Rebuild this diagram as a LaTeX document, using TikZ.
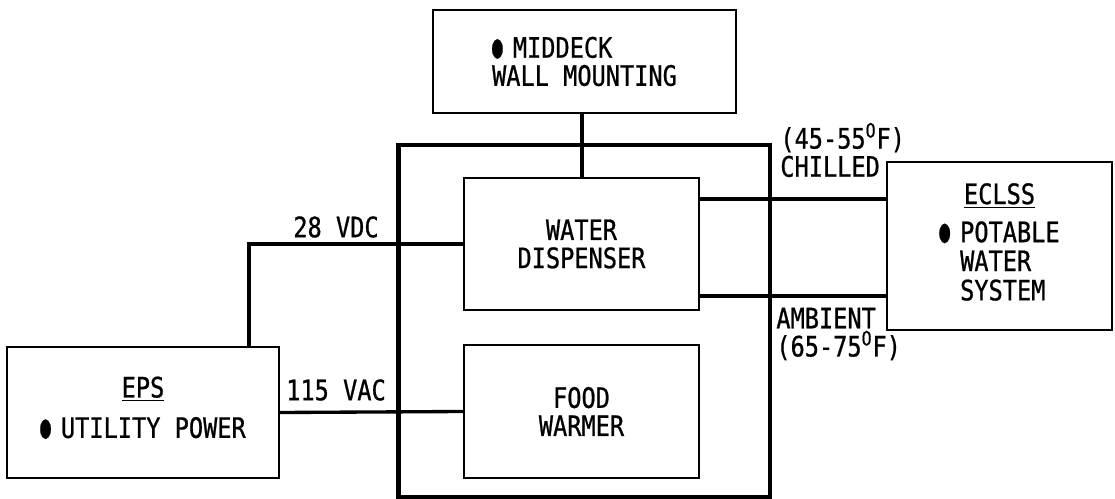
\documentclass[tikz,border=0pt]{standalone}
\usepackage{fontspec}
\usepackage{tikz}
\usetikzlibrary{positioning,calc}
\newfontfamily\leroy[FakeStretch=0.84,FakeBold=0.8]{DejaVu Sans Mono}
\newcommand{\bul}{\raisebox{0.02ex}{\scalebox{0.75}[1.15]{●}}\hspace{0.36em}}

\begin{document}
\begin{tikzpicture}[x=0.02cm,y=-0.02cm,
  font=\leroy\fontsize{16}{16}\selectfont,
  unit/.style={draw,line width=1.3pt,inner sep=0pt,align=center},
  wire/.style={line width=1.9pt}]
  \useasboundingbox (0,0) rectangle (1115,499);
  % galley rack and the units in it
  \node[draw,line width=2.8pt,minimum width=7.44cm,minimum height=7.04cm] (rack) at (584,321) {};
  \node[unit,minimum width=6.06cm,minimum height=2.06cm,align=left] (mount) at (584.5,61.5) {\bul MIDDECK\\WALL MOUNTING};
  \node[unit,minimum width=4.70cm,minimum height=2.64cm] (disp) at (581.5,244) {WATER\\DISPENSER};
  \node[unit,minimum width=4.70cm,minimum height=2.66cm] (warm) at (581.5,411.5) {FOOD\\WARMER};
  \node[unit,minimum width=5.44cm,minimum height=2.62cm] (eps) at (143,412.5) {\underline{EPS}\\[7pt]\bul UTILITY POWER\\[-10pt]};
  \node[unit,minimum width=4.50cm,minimum height=3.36cm] (eclss) at (999.5,246)
    {\begin{tabular}{@{}l@{}}\multicolumn{1}{@{}c@{}}{\underline{ECLSS}}\\[5pt]\bul POTABLE\\\phantom{\bul}WATER\\\phantom{\bul}SYSTEM\end{tabular}};
  % connections
  \coordinate (tap) at (582,0);
  \coordinate (dcbend) at (249,0);
  \coordinate (chl) at (0,199);
  \coordinate (amb) at (0,296);
  \draw[wire] (mount.south -| tap) -- (disp.north -| tap);
  \draw[wire] (disp.west) -- (disp.west -| dcbend) -- (eps.north -| dcbend);
  \draw[wire] (eps.east) -- (warm.west);
  \draw[wire] (disp.east |- chl) -- (eclss.west |- chl);
  \draw[wire] (disp.east |- amb) -- (eclss.west |- amb);
  % labels
  \node (vdc) at (336,227) {28 VDC};
  \node (vac) at (336,390) {115 VAC};
  \node[anchor=west,align=left,inner sep=0pt] (chilled) at (780,150) {(45-55\textsuperscript{O}F)\\CHILLED};
  \node[anchor=west,align=left,inner sep=0pt] (ambient) at (776,334) {AMBIENT\\(65-75\textsuperscript{O}F)};
\end{tikzpicture}
\end{document}
